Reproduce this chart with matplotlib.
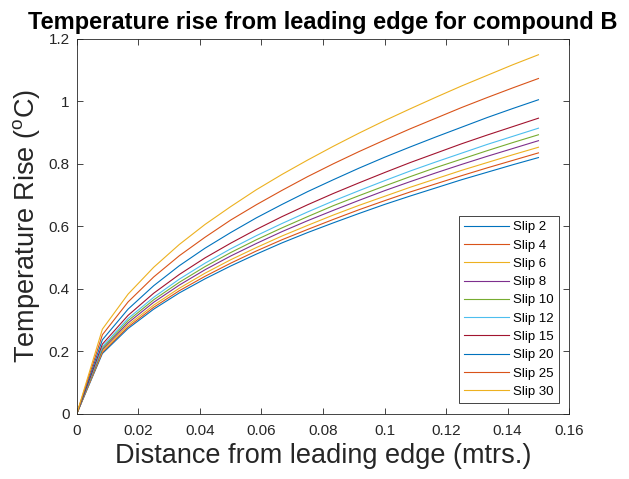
import matplotlib
matplotlib.use('Agg')
import matplotlib.pyplot as plt
from matplotlib.ticker import FuncFormatter, MultipleLocator

plt.rcParams['font.family'] = ['Liberation Sans', 'DejaVu Sans']
plt.rcParams['mathtext.default'] = 'regular'

# distance from leading edge (m)
x = [0, 0.00833, 0.01667, 0.025, 0.03333, 0.04167, 0.05, 0.05833, 0.06667, 0.075,
     0.08333, 0.09167, 0.1, 0.10833, 0.11667, 0.125, 0.13333, 0.14167, 0.15]

slip_2 = [0, .193, .273, .335, .387, .432, .473, .511, .547, .580, .611, .641, .670, .697, .723, .749, .773, .797, .820]
slip_4 = [0, .197, .278, .341, .394, .440, .482, .521, .557, .590, .622, .653, .682, .710, .736, .762, .787, .811, .835]
slip_6 = [0, .201, .284, .348, .402, .450, .493, .532, .569, .603, .636, .667, .696, .725, .752, .779, .804, .829, .853]
slip_8 = [0, .206, .291, .357, .412, .461, .505, .545, .583, .618, .651, .683, .714, .743, .771, .798, .824, .849, .874]
slip_10 = [0, .210, .298, .365, .421, .471, .516, .557, .595, .631, .666, .698, .729, .759, .788, .815, .842, .868, .893]
slip_12 = [0, .215, .305, .373, .431, .482, .528, .570, .609, .646, .681, .714, .746, .777, .806, .834, .862, .888, .914]
slip_15 = [0, .223, .315, .386, .446, .499, .546, .590, .631, .669, .705, .739, .772, .804, .834, .864, .892, .919, .946]
slip_20 = [0, .237, .335, .410, .474, .530, .580, .627, .670, .711, .749, .786, .821, .854, .886, .917, .948, .977, 1.005]
slip_25 = [0, .253, .358, .438, .506, .565, .620, .669, .715, .759, .800, .839, .876, .912, .946, .980, 1.012, 1.043, 1.073]
slip_30 = [0, .271, .383, .469, .542, .606, .663, .717, .766, .812, .856, .898, .938, .976, 1.013, 1.049, 1.083, 1.117, 1.149]

labels = ['Slip 2', 'Slip 4', 'Slip 6', 'Slip 8', 'Slip 10',
          'Slip 12', 'Slip 15', 'Slip 20', 'Slip 25', 'Slip 30']
series = [slip_2, slip_4, slip_6, slip_8, slip_10,
          slip_12, slip_15, slip_20, slip_25, slip_30]

# matlab default colour order
colors = ['#0072BD', '#D95319', '#EDB120', '#7E2F8E', '#77AC30',
          '#4DBEEE', '#A2142F']

fig = plt.figure(figsize=(6.29, 4.79), dpi=100)
ax = fig.add_axes([0.122, 0.136, 0.783, 0.783])

for i, (y, lab) in enumerate(zip(series, labels)):
    ax.plot(x, y, color=colors[i % len(colors)], lw=0.8, label=lab)

ax.set_xlim(0, 0.16)
ax.set_ylim(0, 1.2)
ax.xaxis.set_major_locator(MultipleLocator(0.02))
ax.yaxis.set_major_locator(MultipleLocator(0.2))
fmt = FuncFormatter(lambda v, p: '%g' % round(v, 4))
ax.xaxis.set_major_formatter(fmt)
ax.yaxis.set_major_formatter(fmt)

ax.tick_params(direction='in', top=True, right=True, length=4, width=0.6,
               labelsize=11, colors='#262626')
ax.tick_params(axis='x', pad=7)
ax.tick_params(axis='y', pad=5)
for s in ax.spines.values():
    s.set_linewidth(0.6)
    s.set_color('#262626')

ax.set_xlabel('Distance from leading edge (mtrs.)', fontsize=19.5,
              color='#262626', labelpad=4)
ax.set_ylabel('Temperature Rise ($^{o}$C)', fontsize=19.5, color='#262626',
              labelpad=5)
ax.set_title('Temperature rise from leading edge for compound B',
             fontsize=17, fontweight='bold', pad=7)

leg = ax.legend(loc='lower right', fontsize=9.5, fancybox=False, framealpha=1,
                edgecolor='#262626', handlelength=3.4, labelspacing=0.46,
                borderaxespad=0.8, handletextpad=0.3, borderpad=0.4)
leg.get_frame().set_linewidth(0.6)

fig.savefig('out.png', dpi=100)
